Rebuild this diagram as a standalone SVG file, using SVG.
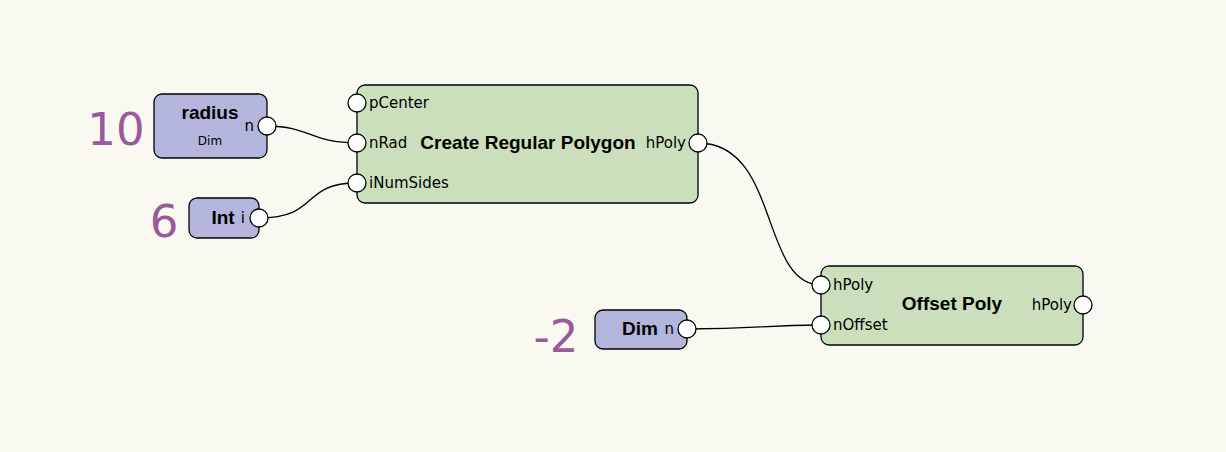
<svg xmlns="http://www.w3.org/2000/svg" width="1226" height="452" viewBox="0 0 1226 452">
<style>
.bg{fill:#f9f8f1}
.val{fill:#b3b5dc;stroke:#000;stroke-width:1.3}
.fn{fill:#cbdfbd;stroke:#000;stroke-width:1.3}
.port{fill:#fff;stroke:#000;stroke-width:1.3}
.wire{fill:none;stroke:#000;stroke-width:1.3}
.t{font-family:"DejaVu Sans","Liberation Sans",sans-serif;fill:#000}
.title{font-family:"Liberation Sans",Arial,sans-serif;font-size:19px;font-weight:bold}
.pl{font-size:15px}
.small{font-size:12px}
.num{font-family:"DejaVu Sans","Liberation Sans",sans-serif;font-size:45px;fill:#985a98}
</style>
<rect class="bg" x="0" y="0" width="1226" height="452"/>
<g id="connectors">
<path class="wire" d="M267,126 C310,126 310,143 357,143"/>
<path class="wire" d="M259,218 C320,218 300,183 357,183"/>
<path class="wire" d="M698,143 C780,143 760,285 821,285"/>
<path class="wire" d="M687,329 C760,329 760,325 821,325"/>
</g>
<g id="label10"><text class="num" x="116" y="145" text-anchor="middle">10</text></g>
<g id="label6"><text class="num" x="164" y="237" text-anchor="middle">6</text></g>
<g id="labelm2"><text class="num" x="556" y="352" text-anchor="middle">-2</text></g>
<g id="radius">
<rect class="val" x="154" y="94" width="113" height="64" rx="8"/>
<text class="t title" x="210" y="119" text-anchor="middle">radius</text>
<text class="t small" x="210" y="145" text-anchor="middle">Dim</text>
<text class="t pl" x="254" y="131" text-anchor="end">n</text>
<circle class="port" cx="267" cy="126" r="9"/>
</g>
<g id="int">
<rect class="val" x="189" y="198" width="70" height="40" rx="8"/>
<text class="t title" x="223" y="224" text-anchor="middle">Int</text>
<text class="t pl" x="245" y="223" text-anchor="end">i</text>
<circle class="port" cx="259" cy="218" r="9"/>
</g>
<g id="createPolygon">
<rect class="fn" x="357" y="85" width="341" height="118" rx="8"/>
<text class="t pl" x="369" y="108">pCenter</text>
<text class="t pl" x="369" y="148">nRad</text>
<text class="t pl" x="369" y="188">iNumSides</text>
<text class="t title" x="528" y="149" text-anchor="middle">Create Regular Polygon</text>
<text class="t pl" x="686" y="148" text-anchor="end">hPoly</text>
<circle class="port" cx="357" cy="103" r="9"/>
<circle class="port" cx="357" cy="143" r="9"/>
<circle class="port" cx="357" cy="183" r="9"/>
<circle class="port" cx="698" cy="143" r="9"/>
</g>
<g id="dim">
<rect class="val" x="595" y="310" width="92" height="39" rx="8"/>
<text class="t title" x="640" y="335" text-anchor="middle">Dim</text>
<text class="t pl" x="674" y="334" text-anchor="end">n</text>
<circle class="port" cx="687" cy="329" r="9"/>
</g>
<g id="offsetPoly">
<rect class="fn" x="821" y="266" width="262" height="79" rx="8"/>
<text class="t pl" x="833" y="290">hPoly</text>
<text class="t pl" x="833" y="330">nOffset</text>
<text class="t title" x="952" y="310" text-anchor="middle">Offset Poly</text>
<text class="t pl" x="1072" y="310" text-anchor="end">hPoly</text>
<circle class="port" cx="821" cy="285" r="9"/>
<circle class="port" cx="821" cy="325" r="9"/>
<circle class="port" cx="1083" cy="305" r="9"/>
</g>
</svg>
